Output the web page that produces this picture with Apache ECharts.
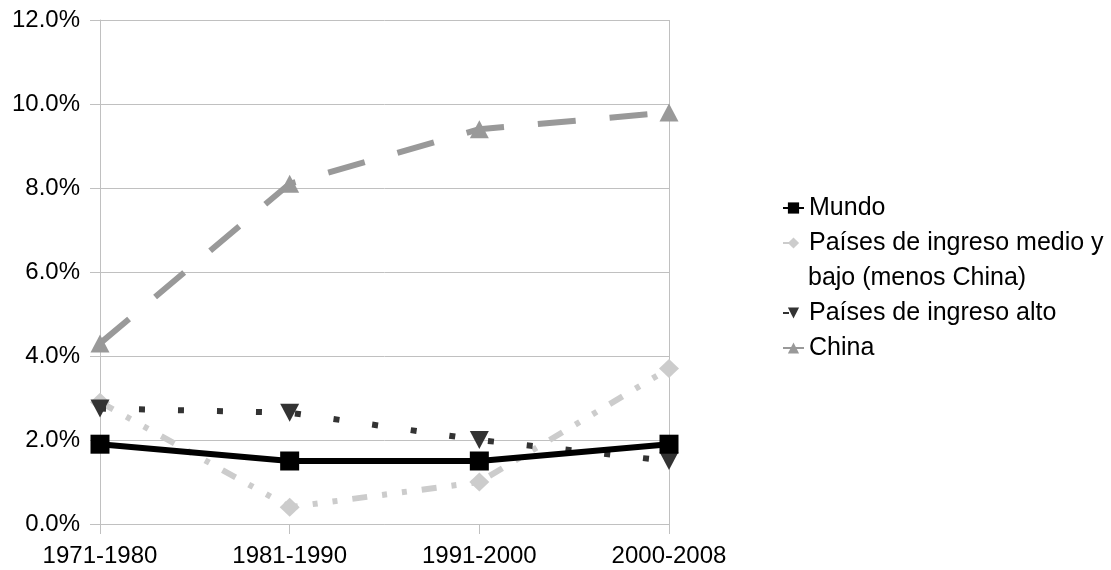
<!DOCTYPE html>
<html>
<head>
<meta charset="utf-8">
<script src="https://cdn.jsdelivr.net/npm/echarts@6/dist/echarts.min.js"></script>
<style>
html,body{margin:0;padding:0;background:#fff;}
#chart{width:1111px;height:570px;}
</style>
</head>
<body>
<div id="chart"></div>
<script>
var categories = ['1971-1980', '1981-1990', '1991-2000', '2000-2008'];
var seriesNames = ['Mundo', 'Países de ingreso medio y bajo (menos China)', 'Países de ingreso alto', 'China'];
var mundo = [1.9, 1.5, 1.5, 1.9];
var medioBajo = [2.9, 0.4, 1.0, 3.7];
var ingresoAlto = [2.75, 2.65, 2.0, 1.5];
var china = [4.3, 8.1, 9.4, 9.8];
var yTicks = [0, 2, 4, 6, 8, 10, 12];

var FONT = "'Liberation Sans', Arial, sans-serif";
var GRID = '#c0c0c0';

var chart = echarts.init(document.getElementById('chart'), null, {renderer: 'canvas'});
var option = {
  backgroundColor: '#ffffff',
  animation: false,
  textStyle: {fontFamily: FONT},
  grid: {left: 100, right: 442, top: 20, bottom: 46, containLabel: false},
  xAxis: {
    type: 'category',
    data: categories,
    boundaryGap: false,
    axisLine: {lineStyle: {color: GRID, width: 1}},
    axisTick: {show: true, length: 10, lineStyle: {color: GRID}},
    axisLabel: {color: '#000', fontSize: 24, fontFamily: FONT, margin: 20},
    splitLine: {
      show: true,
      interval: function (i) { return i === 0 || i === categories.length - 1; },
      lineStyle: {color: GRID, width: 1}
    }
  },
  yAxis: {
    type: 'value',
    min: yTicks[0],
    max: yTicks[yTicks.length - 1],
    interval: 2,
    axisLine: {show: true, lineStyle: {color: GRID, width: 1}},
    axisTick: {show: true, length: 10, lineStyle: {color: GRID}},
    axisLabel: {
      color: '#000', fontSize: 24, fontFamily: FONT, margin: 20,
      formatter: function (v) { return v.toFixed(1) + '%'; }
    },
    splitLine: {show: true, lineStyle: {color: GRID, width: 1}}
  },
  legend: [
    {
      orient: 'vertical', left: 782, top: 190.5, itemGap: 0, padding: 0,
      itemWidth: 21, itemHeight: 14,
      data: [seriesNames[0], seriesNames[1]],
      formatter: function (n) { return n === seriesNames[1] ? 'Países de ingreso medio y' : n; },
      textStyle: {fontSize: 25, fontFamily: FONT, color: '#000', lineHeight: 35}
    },
    {
      orient: 'vertical', left: 782, top: 295.5, itemGap: 0, padding: 0,
      itemWidth: 21, itemHeight: 14,
      data: [seriesNames[2], seriesNames[3]],
      textStyle: {fontSize: 25, fontFamily: FONT, color: '#000', lineHeight: 35}
    }
  ],
  graphic: [
    {
      type: 'text', left: 808, top: 266,
      style: {text: 'bajo (menos China)', font: '25px ' + FONT, fill: '#000'}
    }
  ],
  series: [
    {
      name: seriesNames[0], type: 'line', data: mundo,
      symbol: 'rect', symbolSize: 19,
      lineStyle: {color: '#000', width: 6, type: 'solid'},
      itemStyle: {color: '#000'}, z: 5
    },
    {
      name: seriesNames[1], type: 'line', data: medioBajo,
      symbol: 'diamond', symbolSize: [20, 19],
      lineStyle: {color: '#cccccc', width: 6, type: [15, 15, 5, 15, 5, 15]},
      itemStyle: {color: '#cccccc'}, z: 3
    },
    {
      name: seriesNames[2], type: 'line', data: ingresoAlto,
      symbol: 'triangle', symbolRotate: 180, symbolSize: [19, 18],
      lineStyle: {color: '#333333', width: 6, type: [6, 33]},
      itemStyle: {color: '#333333'}, z: 4
    },
    {
      name: seriesNames[3], type: 'line', data: china,
      symbol: 'triangle', symbolSize: [19, 18],
      lineStyle: {color: '#999999', width: 6, type: [38, 34]},
      itemStyle: {color: '#999999'}, z: 2
    }
  ]
};
chart.setOption(option);
</script>
</body>
</html>
